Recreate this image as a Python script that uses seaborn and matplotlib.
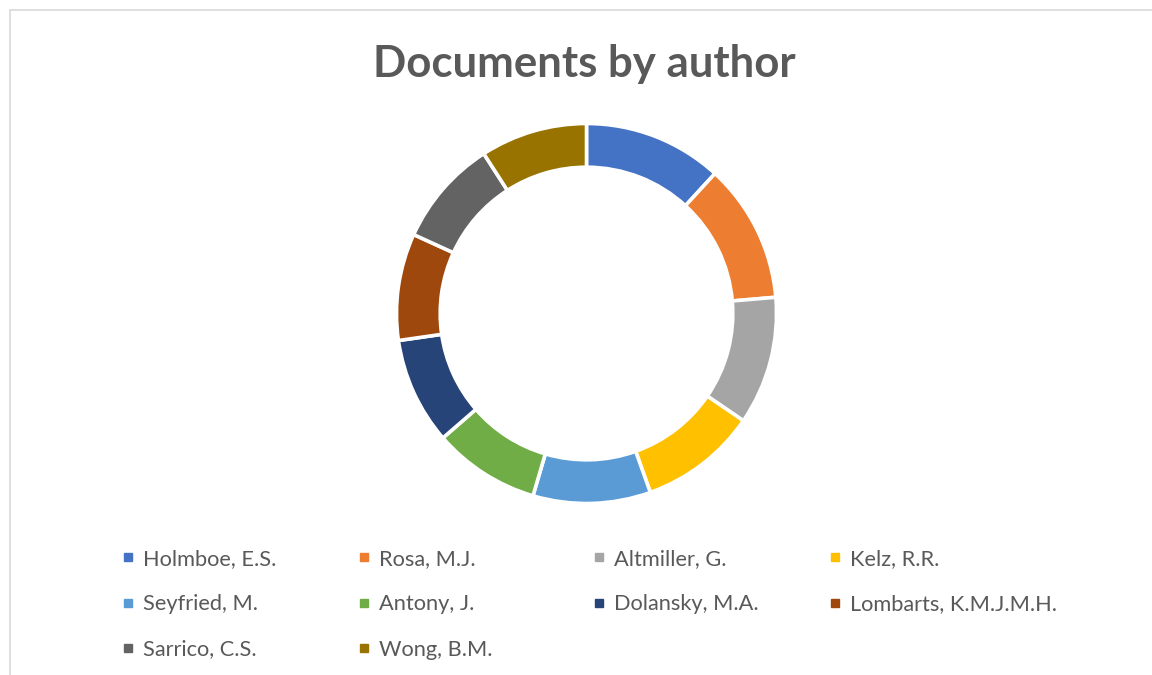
import pandas as pd
import numpy as np
import matplotlib
matplotlib.use("Agg")
import matplotlib.pyplot as plt
import seaborn as sns
from matplotlib.lines import Line2D
from matplotlib.patches import Rectangle

authors = ["Holmboe, E.S.", "Rosa, M.J.", "Altmiller, G.", "Kelz, R.R.",
           "Seyfried, M.", "Antony, J.", "Dolansky, M.A.", "Lombarts, K.M.J.M.H.",
           "Sarrico, C.S.", "Wong, B.M."]
documents = [13, 13, 12, 11, 11, 10, 10, 10, 10, 10]
colors = ["#4472C4", "#ED7D31", "#A5A5A5", "#FFC000", "#5B9BD5",
          "#70AD47", "#264478", "#9E480E", "#636363", "#997300"]

df = pd.DataFrame({"author": authors, "documents": documents})

sns.set_theme(style="white")
plt.rcParams["font.family"] = ["Lato", "DejaVu Sans"]
text_color = "#595959"

W, H = 1152, 675
fig = plt.figure(figsize=(W / 100, H / 100), dpi=100)
fig.patch.set_facecolor("white")

# chart area border (only top/left visible in the crop)
fig.patches.append(Rectangle((9.5 / W, -0.1), 1.2, (H - 10) / H + 0.1,
                             transform=fig.transFigure, fill=False,
                             edgecolor="#D9D9D9", linewidth=1.2))

# doughnut
cx, cy, r = 586.5, 313.5, 190
ax = fig.add_axes([(cx - r) / W, (H - cy - r) / H, 2 * r / W, 2 * r / H])
wedges, _ = ax.pie(df["documents"], colors=sns.color_palette(colors),
                   startangle=90, counterclock=False, radius=1.0,
                   wedgeprops=dict(width=0.23, edgecolor="white", linewidth=2.6))
ax.set_xlim(-1, 1)
ax.set_ylim(-1, 1)
ax.set_aspect("equal")
ax.axis("off")

fig.text(584 / W, (H - 77) / H, "Documents by author", ha="center",
         va="baseline", fontsize=31.5, fontweight="bold", color=text_color)

# legend laid out row by row, four fixed-width columns
col_x = [123, 359, 594, 830]
ncols = 4
for c in range(ncols):
    idx = list(range(c, len(authors), ncols))
    handles = [Line2D([], [], marker="s", linestyle="none", markersize=5.4,
                      markerfacecolor=colors[i], markeredgecolor=colors[i])
               for i in idx]
    leg = fig.legend(handles, [authors[i] for i in idx], loc="upper left",
                     bbox_to_anchor=(col_x[c] / W, (H - 549) / H),
                     frameon=False, fontsize=15.7, handlelength=0.5,
                     handletextpad=0.4, labelspacing=1.16, borderpad=0,
                     borderaxespad=0, labelcolor=text_color)

fig.savefig("out.png", dpi=100, facecolor="white")
